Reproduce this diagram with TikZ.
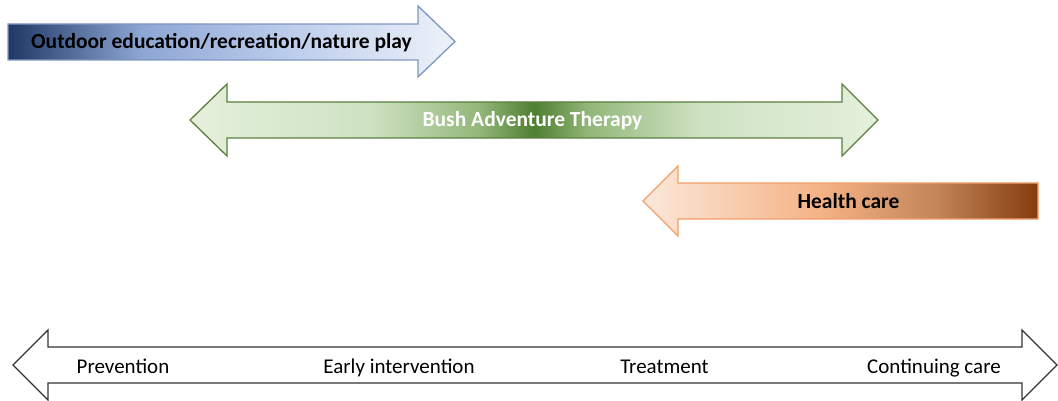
\documentclass[tikz,border=0pt]{standalone}
\usepackage{fontspec}
\setmainfont{Carlito}
\usetikzlibrary{shadings}

% gradient fills for the three service arrows
\definecolor{navydark}{HTML}{1F3864}
\definecolor{navymid}{HTML}{8EA6D4}
\definecolor{navylight}{HTML}{B8CAEA}
\definecolor{navypale}{HTML}{EEF2FA}
\definecolor{navyedge}{HTML}{7F96C2}
\definecolor{greenpale}{HTML}{E4F0DC}
\definecolor{greenlight}{HTML}{CFE2C3}
\definecolor{greenmid}{HTML}{93B77A}
\definecolor{greendark}{HTML}{4F7F30}
\definecolor{greenedge}{HTML}{5B7F3E}
\definecolor{peachpale}{HTML}{FCE8DA}
\definecolor{peachmid}{HTML}{F4B183}
\definecolor{rust}{HTML}{C4855A}
\definecolor{brown}{HTML}{843C0C}
\definecolor{orangeedge}{HTML}{F2A06A}
\definecolor{timeline}{HTML}{333333}

\pgfdeclarehorizontalshading{outdoorfade}{100bp}{%
  color(0bp)=(navydark); color(25bp)=(navydark); color(40bp)=(navymid);
  color(55bp)=(navylight); color(75bp)=(navypale); color(100bp)=(navypale)}
\pgfdeclarehorizontalshading{bushfade}{100bp}{%
  color(0bp)=(greenpale); color(25bp)=(greenpale); color(38bp)=(greenlight);
  color(46bp)=(greenmid); color(50bp)=(greendark); color(54bp)=(greenmid);
  color(62bp)=(greenlight); color(75bp)=(greenpale); color(100bp)=(greenpale)}
\pgfdeclarehorizontalshading{healthfade}{100bp}{%
  color(0bp)=(peachpale); color(25bp)=(peachpale); color(48bp)=(peachmid);
  color(62bp)=(rust); color(75bp)=(brown); color(100bp)=(brown)}

\tikzset{
  band/.style={line width=1.3pt, line join=miter},
  bandlabel/.style={font=\fontsize{21.5}{24}\selectfont\bfseries, inner sep=0pt, anchor=base},
  stagelabel/.style={font=\fontsize{21}{24}\selectfont, inner sep=0pt, anchor=base, text=black}
}

\begin{document}
\begin{tikzpicture}[x=1pt, y=-1pt]
\useasboundingbox (0,0) rectangle (1058,401);

% outdoor education: right-pointing arrow
\path[band, draw=navyedge, shading=outdoorfade]
  (8,24) -- (418,24) -- (418,6) -- (455,41.5) -- (418,77) -- (418,60) -- (8,60) -- cycle;
\node[bandlabel, text=black] (outdoor) at (221.5,49) {Outdoor education/recreation/nature play};

% bush adventure therapy: double arrow
\path[band, draw=greenedge, shading=bushfade]
  (190,120) -- (227,84) -- (227,102) -- (842,102) -- (842,84) -- (878,120)
  -- (842,156) -- (842,138) -- (227,138) -- (227,156) -- cycle;
\node[bandlabel, text=white] (bat) at (532.5,127) {Bush Adventure Therapy};

% health care: left-pointing arrow
\path[band, draw=orangeedge, shading=healthfade]
  (643,201) -- (678,166) -- (678,183) -- (1038,183) -- (1038,219) -- (678,219) -- (678,236) -- cycle;
\node[bandlabel, text=black] (health) at (848.5,208) {Health care};

% continuum of care: outlined double arrow
\path[draw=timeline, line width=1.1pt, fill=white, line join=miter]
  (13,365) -- (48,330) -- (48,347) -- (1022,347) -- (1022,330) -- (1057,365)
  -- (1022,400) -- (1022,383) -- (48,383) -- (48,400) -- cycle;
\node[stagelabel] (prevention) at (123,373) {Prevention};
\node[stagelabel] (early) at (399,373) {Early intervention};
\node[stagelabel] (treatment) at (664.5,373) {Treatment};
\node[stagelabel] (continuing) at (934,373) {Continuing care};
\end{tikzpicture}
\end{document}
